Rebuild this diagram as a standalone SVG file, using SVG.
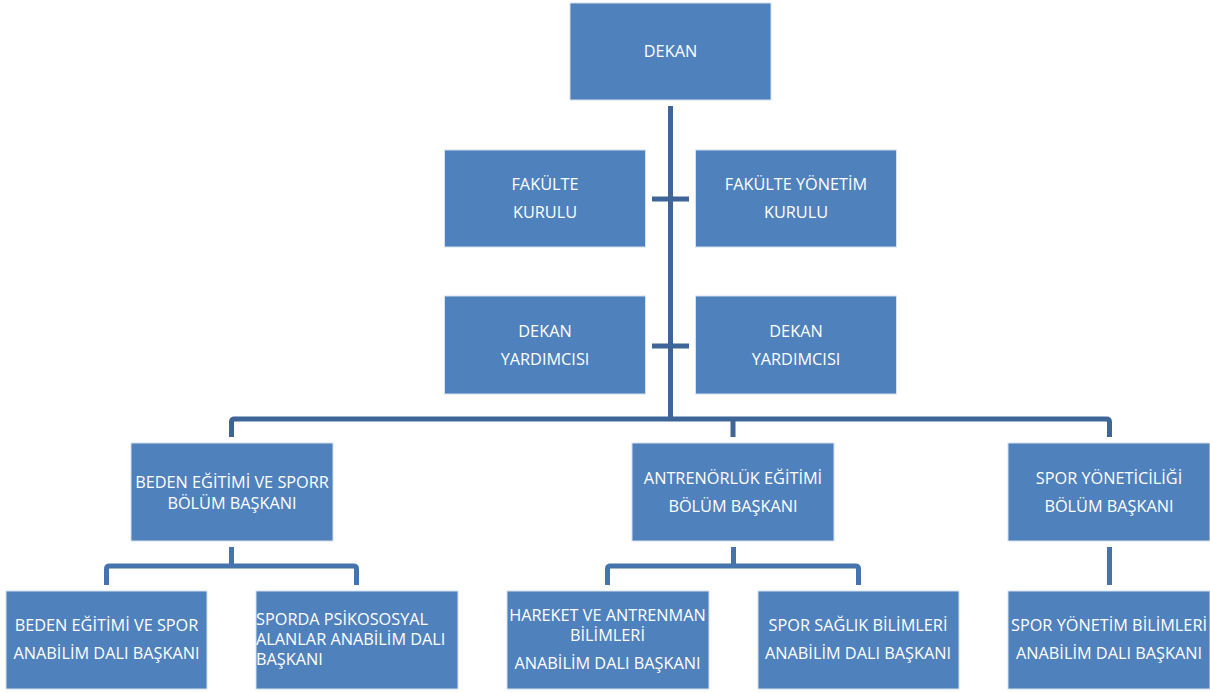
<svg xmlns="http://www.w3.org/2000/svg" width="1210" height="693" viewBox="0 0 1210 693">
<style>
.box{fill:#4F81BD;stroke:#d6e0ee;stroke-width:1}
.t{font-family:"Open Sans","Liberation Sans",sans-serif;font-size:16.3px;fill:#ffffff;text-anchor:middle}
.tl{font-family:"Open Sans","Liberation Sans",sans-serif;font-size:16.3px;fill:#ffffff;text-anchor:start}
.c1{fill:none;stroke:#3E6597;stroke-width:5}
.c2{fill:none;stroke:#4573AC;stroke-width:5}
</style>
<rect width="1210" height="693" fill="#ffffff"/>
<g id="connectors">
<path class="c1" d="M670.5,106 V419"/>
<path class="c1" d="M652,199 H689"/>
<path class="c1" d="M652,346 H689"/>
<path class="c1" d="M231.5,437 V422 Q231.5,419 234.5,419 H1106.5 Q1109.5,419 1109.5,422 V437"/>
<path class="c1" d="M733,419 V437"/>
<path class="c2" d="M231.5,547 V566"/>
<path class="c2" d="M106.5,585 V569 Q106.5,566 109.5,566 H353.5 Q356.5,566 356.5,569 V585"/>
<path class="c2" d="M733.5,547 V566"/>
<path class="c2" d="M607.5,585 V569 Q607.5,566 610.5,566 H855.5 Q858.5,566 858.5,569 V585"/>
<path class="c2" d="M1109.5,547 V585"/>
</g>
<g id="dekan">
<rect class="box" x="570" y="3" width="201" height="97"/>
<text class="t" x="670.5" y="57">DEKAN</text>
</g>
<g id="fakulte-kurulu">
<rect class="box" x="444.5" y="150" width="201" height="97"/>
<text class="t" x="545" y="190">FAKÜLTE</text>
<text class="t" x="545" y="218">KURULU</text>
</g>
<g id="fakulte-yonetim-kurulu">
<rect class="box" x="695.5" y="150" width="201" height="97"/>
<text class="t" x="796" y="190">FAKÜLTE YÖNETİM</text>
<text class="t" x="796" y="218">KURULU</text>
</g>
<g id="dekan-yardimcisi-1">
<rect class="box" x="444.5" y="296" width="201" height="98"/>
<text class="t" x="545" y="337">DEKAN</text>
<text class="t" x="545" y="365">YARDIMCISI</text>
</g>
<g id="dekan-yardimcisi-2">
<rect class="box" x="695.5" y="296" width="201" height="98"/>
<text class="t" x="796" y="337">DEKAN</text>
<text class="t" x="796" y="365">YARDIMCISI</text>
</g>
<g id="beden-bolum">
<rect class="box" x="131" y="443" width="202" height="98"/>
<text class="t" x="232" y="488">BEDEN EĞİTİMİ VE SPORR</text>
<text class="t" x="232" y="509">BÖLÜM BAŞKANI</text>
</g>
<g id="antrenorluk-bolum">
<rect class="box" x="632" y="443" width="202" height="98"/>
<text class="t" x="733" y="484">ANTRENÖRLÜK EĞİTİMİ</text>
<text class="t" x="733" y="512">BÖLÜM BAŞKANI</text>
</g>
<g id="spor-yoneticiligi-bolum">
<rect class="box" x="1008" y="443" width="202" height="98"/>
<text class="t" x="1109" y="484">SPOR YÖNETİCİLİĞİ</text>
<text class="t" x="1109" y="512">BÖLÜM BAŞKANI</text>
</g>
<g id="beden-anabilim">
<rect class="box" x="6" y="591" width="201" height="98"/>
<text class="t" x="106.5" y="631">BEDEN EĞİTİMİ VE SPOR</text>
<text class="t" x="106.5" y="659">ANABİLİM DALI BAŞKANI</text>
</g>
<g id="sporda-psikososyal">
<rect class="box" x="256" y="591" width="202" height="98"/>
<text class="tl" x="256" y="625">SPORDA PSİKOSOSYAL</text>
<text class="tl" x="256" y="645">ALANLAR ANABİLİM DALI</text>
<text class="tl" x="256" y="665">BAŞKANI</text>
</g>
<g id="hareket-antrenman">
<rect class="box" x="507" y="591" width="202" height="98"/>
<text class="t" x="607.5" y="621">HAREKET VE ANTRENMAN</text>
<text class="t" x="607.5" y="641">BİLİMLERİ</text>
<text class="t" x="607.5" y="669">ANABİLİM DALI BAŞKANI</text>
</g>
<g id="spor-saglik">
<rect class="box" x="758" y="591" width="201" height="98"/>
<text class="t" x="858" y="631">SPOR SAĞLIK BİLİMLERİ</text>
<text class="t" x="858" y="659">ANABİLİM DALI BAŞKANI</text>
</g>
<g id="spor-yonetim">
<rect class="box" x="1008" y="591" width="202" height="98"/>
<text class="t" x="1109" y="631">SPOR YÖNETİM BİLİMLERİ</text>
<text class="t" x="1109" y="659">ANABİLİM DALI BAŞKANI</text>
</g>
</svg>
